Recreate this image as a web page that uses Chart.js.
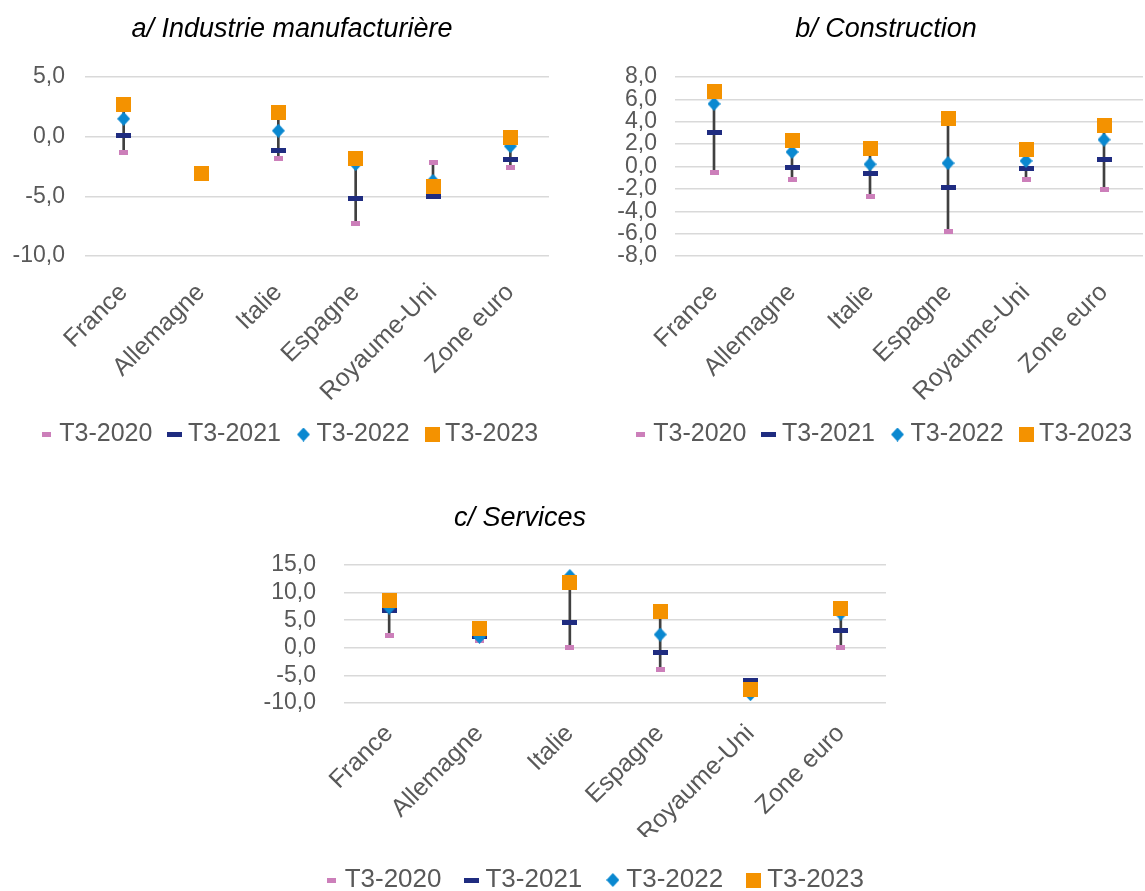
<!DOCTYPE html>
<html lang="fr">
<head>
<meta charset="utf-8">
<title>Climat des affaires T3</title>
<script src="https://cdn.jsdelivr.net/npm/chart.js@4.4.0/dist/chart.umd.min.js"></script>
<style>
    html, body { margin: 0; padding: 0; background: #fff; width: 1145px; height: 891px; overflow: hidden; }
    canvas { position: absolute; }
</style>
</head>
<body>
<canvas id="chartA" width="584" height="457" style="left:0;top:0"></canvas>
<canvas id="chartB" width="572" height="457" style="left:600px;top:0"></canvas>
<canvas id="chartC" width="748" height="423" style="left:146px;top:480px"></canvas>
<script>
const FONT = "'Liberation Sans', Arial, sans-serif";
const GREY = '#595959';

const categories = ['France', 'Allemagne', 'Italie', 'Espagne', 'Royaume-Uni', 'Zone euro'];
const seriesLabels = ['T3-2020', 'T3-2021', 'T3-2022', 'T3-2023'];

// a/ Industrie manufacturière
const indus2020 = [-1.3, -3.0, -1.8, -7.3, -2.2, -2.6];
const indus2021 = [0.1, -3.2, -1.2, -5.2, -5.0, -1.9];
const indus2022 = [1.5, -3.1, 0.5, -2.3, -3.7, -0.8];
const indus2023 = [2.7, -3.1, 2.0, -1.8, -4.2, -0.1];
const indusAxis = [-10, 5, 5];   // min, max, pas

// b/ Construction
const constr2020 = [-0.5, -1.2, -2.7, -5.8, -1.2, -2.1];
const constr2021 = [3.0, -0.1, -0.6, -1.9, -0.2, 0.6];
const constr2022 = [5.6, 1.3, 0.2, 0.3, 0.5, 2.4];
const constr2023 = [6.7, 2.3, 1.6, 4.3, 1.5, 3.7];
const constrAxis = [-8, 8, 2];

// c/ Services
const serv2020 = [2.3, 1.3, 0.0, -3.9, -7.2, 0.1];
const serv2021 = [6.7, 2.0, 4.5, -0.8, -6.0, 3.2];
const serv2022 = [7.3, 2.0, 13.0, 2.4, -8.4, 6.2];
const serv2023 = [8.6, 3.5, 11.8, 6.5, -7.5, 7.1];
const servAxis = [-10, 15, 5];

// petits marqueurs dessinés à la main (tirets, losange, carré)
function makeMarker(w, h, color, diamond) {
    let c = document.createElement('canvas');
    c.width = w;
    c.height = h;
    let ctx = c.getContext('2d');
    ctx.fillStyle = color;
    if (diamond) {
        ctx.beginPath();
        ctx.moveTo(w / 2, 0);
        ctx.lineTo(w, h / 2);
        ctx.lineTo(w / 2, h);
        ctx.lineTo(0, h / 2);
        ctx.closePath();
        ctx.fill();
    } else {
        ctx.fillRect(0, 0, w, h);
    }
    return c;
}

const markers = [
    makeMarker(9, 5, '#cc7fba'),
    makeMarker(15, 5, '#1f2c80'),
    makeMarker(13, 14, '#0a88d0', true),
    makeMarker(15, 15, '#f49200')
];

function fmt(v) {
    return v.toFixed(1).replace('.', ',');
}

function drawPanel(id, title, series, axis, lay) {
    // trait vertical min-max derrière les marqueurs
    let range = categories.map((c, i) => {
        let vals = series.map(s => s[i]);
        return [Math.min(...vals), Math.max(...vals)];
    });
    let datasets = series.map((s, k) => ({
        type: 'line',
        label: seriesLabels[k],
        data: s,
        showLine: false,
        pointStyle: markers[k],
        pointRadius: 4,
        order: 4 - k
    }));
    datasets.push({
        type: 'bar',
        label: 'min-max',
        data: range,
        backgroundColor: '#404040',
        barThickness: 2,
        order: 10
    });

    new Chart(document.getElementById(id), {
        type: 'line',
        data: { labels: categories, datasets: datasets },
        options: {
            responsive: false,
            animation: false,
            layout: { padding: 0 },
            scales: {
                x: {
                    offset: true,
                    grid: { display: false },
                    border: { display: false },
                    ticks: {
                        color: GREY,
                        font: { family: FONT, size: 25 },
                        minRotation: 45,
                        maxRotation: 45,
                        autoSkip: false,
                        padding: lay.xPad
                    },
                    afterFit(s) { s.height = lay.xHeight; }
                },
                y: {
                    min: axis[0],
                    max: axis[1],
                    grid: { color: '#d9d9d9', lineWidth: 1.5, drawTicks: false },
                    border: { display: false },
                    ticks: {
                        stepSize: axis[2],
                        autoSkip: false,
                        color: GREY,
                        font: { family: FONT, size: 23 },
                        padding: lay.yPad,
                        callback: v => fmt(v)
                    },
                    afterFit(s) { s.width = lay.yWidth; }
                },
                pad: {
                    type: 'linear',
                    position: 'right',
                    grid: { display: false, drawTicks: false },
                    border: { display: false },
                    ticks: { display: false },
                    afterFit(s) { s.width = lay.rightWidth; }
                }
            },
            plugins: {
                tooltip: { enabled: false },
                title: {
                    display: true,
                    text: title,
                    color: '#000',
                    font: { family: FONT, size: 27, style: 'italic', weight: 'normal' },
                    padding: { top: lay.titleTop, bottom: lay.titleBottom }
                },
                legend: {
                    position: 'bottom',
                    align: lay.legendAlign,
                    labels: {
                        usePointStyle: true,
                        boxWidth: 1,
                        padding: lay.legendPad,
                        color: GREY,
                        font: { family: FONT, size: lay.legendSize },
                        filter: item => item.datasetIndex < 4,
                        sort: (a, b) => a.datasetIndex - b.datasetIndex
                    }
                }
            }
        }
    });
}

drawPanel('chartA', 'a/ Industrie manufacturière',
    [indus2020, indus2021, indus2022, indus2023], indusAxis,
    { yWidth: 85, rightWidth: 35, xHeight: 144, xPad: 14, yPad: 20,
      titleTop: 13, titleBottom: 31.6, legendPad: 22, legendSize: 25, legendAlign: 'center' });

drawPanel('chartB', 'b/ Construction',
    [constr2020, constr2021, constr2022, constr2023], constrAxis,
    { yWidth: 75, rightWidth: 29, xHeight: 144, xPad: 14, yPad: 18,
      titleTop: 13, titleBottom: 31.6, legendPad: 22, legendSize: 25, legendAlign: 'center' });

drawPanel('chartC', 'c/ Services',
    [serv2020, serv2021, serv2022, serv2023], servAxis,
    { yWidth: 198, rightWidth: 8, xHeight: 134, xPad: 8, yPad: 28,
      titleTop: 21.8, titleBottom: 30.8, legendPad: 30, legendSize: 26, legendAlign: 'end' });
</script>
</body>
</html>
